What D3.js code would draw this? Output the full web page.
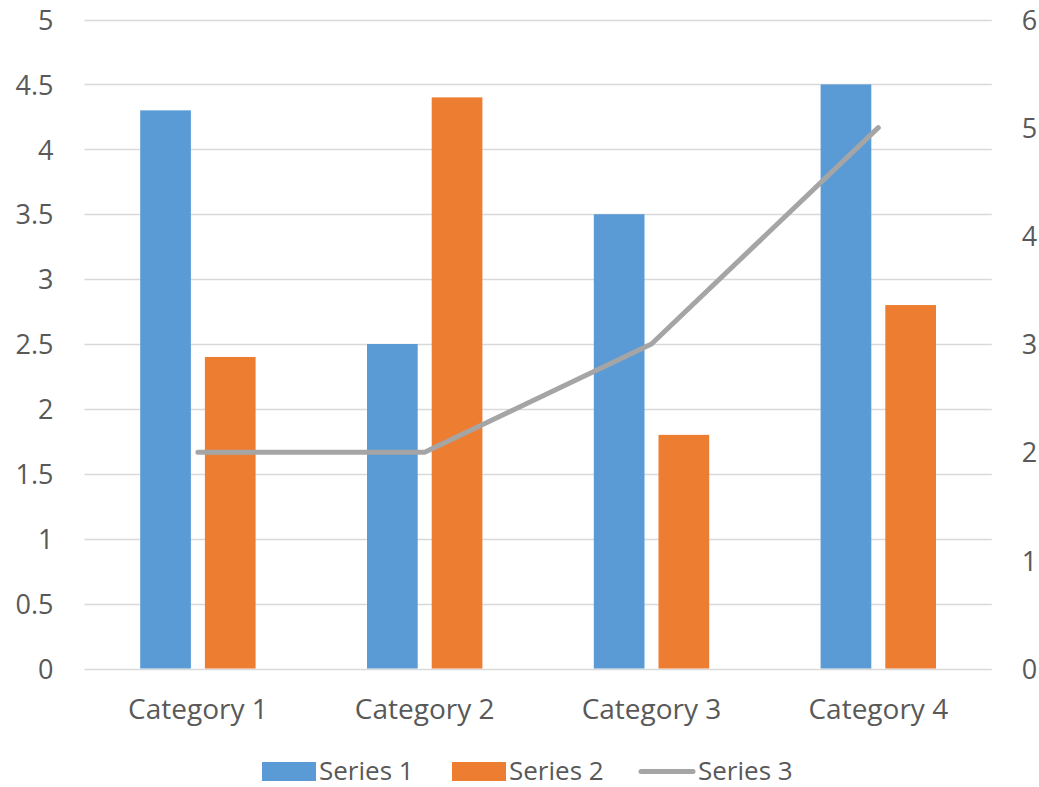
<!DOCTYPE html>
<html>
<head>
<meta charset="utf-8">
<script src="https://cdn.jsdelivr.net/npm/d3@7"></script>
<style>
  html, body { margin: 0; padding: 0; background: #fff; }
  svg { display: block; }
  text { font-family: "Open Sans", "Noto Sans", sans-serif; fill: #595959; }
</style>
</head>
<body>
<svg id="chart" width="1039" height="787"></svg>
<script>
// Chart data
const categories = ["Category 1", "Category 2", "Category 3", "Category 4"];
const seriesNames = ["Series 1", "Series 2", "Series 3"];
const series1 = [4.3, 2.5, 3.5, 4.5];
const series2 = [2.4, 4.4, 1.8, 2.8];
const series3 = [2, 2, 3, 5];
const leftTicks = [0, 0.5, 1, 1.5, 2, 2.5, 3, 3.5, 4, 4.5, 5];
const rightTicks = [0, 1, 2, 3, 4, 5, 6];

const colors = { "Series 1": "#5B9BD5", "Series 2": "#ED7D31", "Series 3": "#A5A5A5" };

const svg = d3.select("#chart");
const plot = { left: 84.5, right: 991.7, top: 19.5, bottom: 668.5 };

const x0 = d3.scaleBand().domain(categories).range([plot.left, plot.right]).padding(0);
const x1 = d3.scaleBand().domain(["Series 1", "Series 2"])
  .range([0, x0.bandwidth()])
  .paddingInner(0.2164).paddingOuter(0.861);
const yL = d3.scaleLinear().domain([0, 5]).range([plot.bottom, plot.top]);
const yR = d3.scaleLinear().domain([0, 6]).range([plot.bottom, plot.top]);

// Gridlines
svg.append("g").selectAll("line").data(leftTicks).join("line")
  .attr("x1", plot.left).attr("x2", plot.right)
  .attr("y1", d => Math.round(yL(d)) + 0.5).attr("y2", d => Math.round(yL(d)) + 0.5)
  .attr("stroke", "#D9D9D9").attr("stroke-width", 1.3);

// Left axis labels
const leftAxis = svg.append("g").attr("transform", `translate(${plot.left},0)`)
  .call(d3.axisLeft(yL).tickValues(leftTicks).tickSize(0).tickPadding(31).tickFormat(d3.format("")));
leftAxis.select(".domain").remove();
leftAxis.selectAll("text").attr("font-size", 27).attr("font-family", null).attr("fill", "#595959").attr("dy", "0.36em");

// Right axis labels
const rightAxis = svg.append("g").attr("transform", `translate(${plot.right},0)`)
  .call(d3.axisRight(yR).tickValues(rightTicks).tickSize(0).tickPadding(30).tickFormat(d3.format("")));
rightAxis.select(".domain").remove();
rightAxis.selectAll("text").attr("font-size", 27).attr("font-family", null).attr("fill", "#595959").attr("dy", "0.36em");

// Category axis labels
const bottomAxis = svg.append("g").attr("transform", `translate(0,${plot.bottom})`)
  .call(d3.axisBottom(x0).tickSize(0).tickPadding(31));
bottomAxis.select(".domain").remove();
bottomAxis.selectAll("text").attr("font-size", 28).attr("font-family", null).attr("fill", "#595959");

// Bars
const barData = categories.map((c, i) => ({
  cat: c,
  values: [{ s: "Series 1", v: series1[i] }, { s: "Series 2", v: series2[i] }]
}));
svg.append("g").selectAll("g").data(barData).join("g")
  .attr("transform", d => `translate(${x0(d.cat)},0)`)
  .selectAll("rect").data(d => d.values).join("rect")
  .attr("x", d => x1(d.s))
  .attr("width", x1.bandwidth())
  .attr("y", d => yL(d.v))
  .attr("height", d => yL(0) - yL(d.v))
  .attr("fill", d => colors[d.s]);

// Line series on secondary axis
const line = d3.line()
  .x((d, i) => x0(categories[i]) + x0.bandwidth() / 2)
  .y(d => yR(d));
svg.append("path").datum(series3)
  .attr("d", line)
  .attr("fill", "none")
  .attr("stroke", colors["Series 3"])
  .attr("stroke-width", 5)
  .attr("stroke-linejoin", "round")
  .attr("stroke-linecap", "round");

// Legend
const legend = svg.append("g");
const legendItems = [
  { name: "Series 1", x: 262, type: "rect" },
  { name: "Series 2", x: 452, type: "rect" },
  { name: "Series 3", x: 641, type: "line" }
];
legendItems.forEach(it => {
  if (it.type === "rect") {
    legend.append("rect").attr("x", it.x).attr("y", 762).attr("width", 54).attr("height", 19)
      .attr("fill", colors[it.name]);
  } else {
    legend.append("line").attr("x1", it.x).attr("x2", it.x + 52).attr("y1", 771.5).attr("y2", 771.5)
      .attr("stroke", colors[it.name]).attr("stroke-width", 5).attr("stroke-linecap", "round");
  }
  legend.append("text").attr("x", it.x + 57).attr("y", 779.5)
    .attr("font-size", 26).text(it.name);
});
</script>
</body>
</html>
